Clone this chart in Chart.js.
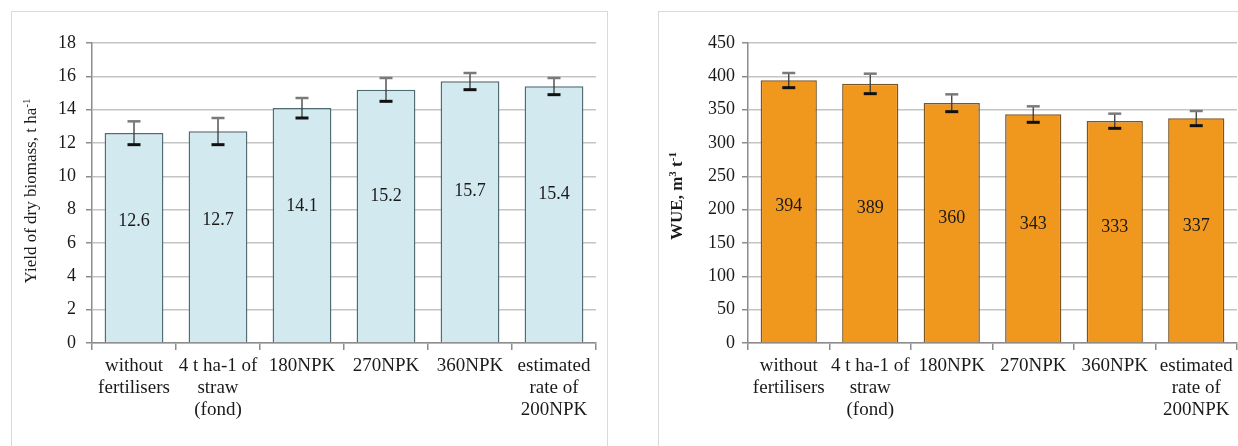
<!DOCTYPE html>
<html>
<head>
<meta charset="utf-8">
<script src="https://cdn.jsdelivr.net/npm/chart.js@4"></script>
<style>
    html, body { margin: 0; padding: 0; background: #fff; overflow: hidden; width: 1238px; height: 446px; }
    .box { position: absolute; top: 11px; border: 1px solid #d9d9d9; height: 470px; }
    #boxLeft { left: 11px; width: 595px; }
    #boxRight { left: 658px; width: 620px; }
    canvas { display: block; }
</style>
</head>
<body>
<div class="box" id="boxLeft"><canvas id="biomassChart" width="595" height="434"></canvas></div>
<div class="box" id="boxRight"><canvas id="wueChart" width="579" height="434"></canvas></div>
<script>
// data
var categories = [
    ['without', 'fertilisers'],
    ['4 t ha-1 of', 'straw', '(fond)'],
    '180NPK',
    '270NPK',
    '360NPK',
    ['estimated', 'rate of', '200NPK']
];
var biomassValues = [12.6, 12.7, 14.1, 15.2, 15.7, 15.4];
var biomassErrors = [0.7, 0.8, 0.6, 0.7, 0.5, 0.5];
var wueValues = [394, 389, 360, 343, 333, 337];
var wueErrors = [11, 15, 13, 12, 11, 11];
var biomassTitle = [{ text: 'Yield of dry biomass, t ha' }, { text: '-1', sup: true }];
var wueTitle = [{ text: 'WUE, m' }, { text: '3', sup: true }, { text: ' t' }, { text: '-1', sup: true }];

var FONT = '"Liberation Serif", "Times New Roman", serif';
var AXIS = '#8c8c8c';

// error bars, values inside the bars and the rotated axis title
var barExtras = {
    id: 'barExtras',
    afterDatasetsDraw: function (chart, args, opts) {
        var ctx = chart.ctx;
        var y = chart.scales.y;
        var values = chart.data.datasets[0].data;
        ctx.save();
        chart.getDatasetMeta(0).data.forEach(function (bar, i) {
            var v = values[i], e = opts.errors[i];
            var top = y.getPixelForValue(v + e);
            var bot = y.getPixelForValue(v - e);
            ctx.strokeStyle = '#3a3a3a';
            ctx.lineWidth = 1.3;
            ctx.beginPath(); ctx.moveTo(bar.x, top); ctx.lineTo(bar.x, bot); ctx.stroke();
            ctx.lineWidth = 2.5;
            ctx.strokeStyle = '#7a7a7a';
            ctx.beginPath(); ctx.moveTo(bar.x - 6.5, top); ctx.lineTo(bar.x + 6.5, top); ctx.stroke();
            ctx.lineWidth = 3;
            ctx.strokeStyle = '#111';
            ctx.beginPath(); ctx.moveTo(bar.x - 6.5, bot); ctx.lineTo(bar.x + 6.5, bot); ctx.stroke();

            ctx.fillStyle = '#1a1a1a';
            ctx.font = '18px ' + FONT;
            ctx.textAlign = 'center';
            ctx.textBaseline = 'middle';
            ctx.fillText(String(v), bar.x, y.getPixelForValue(v * opts.labelAt));
        });

        // axis title with superscripts
        var parts = opts.title;
        var weight = opts.titleBold ? 'bold ' : '';
        var total = 0;
        parts.forEach(function (p) {
            ctx.font = weight + (p.sup ? '11px ' : '17px ') + FONT;
            p.w = ctx.measureText(p.text).width;
            total += p.w;
        });
        ctx.translate(opts.titleX, opts.titleY);
        ctx.rotate(-Math.PI / 2);
        ctx.textAlign = 'left';
        ctx.textBaseline = 'middle';
        ctx.fillStyle = '#1a1a1a';
        var x = -total / 2;
        parts.forEach(function (p) {
            ctx.font = weight + (p.sup ? '11px ' : '17px ') + FONT;
            ctx.fillText(p.text, x, p.sup ? -5 : 0);
            x += p.w;
        });
        ctx.restore();
    }
};

function makeChart(id, values, cfg) {
    var ctx = document.getElementById(id).getContext('2d');
    return new Chart(ctx, {
        type: 'bar',
        data: {
            labels: categories,
            datasets: [{
                data: values,
                backgroundColor: cfg.fill,
                borderColor: cfg.stroke,
                borderWidth: 1.5,
                barPercentage: cfg.barPct,
                categoryPercentage: 1
            }]
        },
        plugins: [barExtras],
        options: {
            responsive: false,
            animation: false,
            devicePixelRatio: 1,
            layout: { padding: { left: 0, top: 31, right: cfg.padRight, bottom: 0 } },
            plugins: {
                legend: { display: false },
                tooltip: { enabled: false },
                barExtras: {
                    errors: cfg.errors,
                    labelAt: cfg.labelAt,
                    title: cfg.title,
                    titleBold: cfg.titleBold,
                    titleX: cfg.titleX,
                    titleY: cfg.titleY
                }
            },
            scales: {
                x: {
                    afterFit: function (s) { s.height = 103; },
                    grid: { offset: true, drawOnChartArea: false, tickLength: 7, color: AXIS, lineWidth: 1.5 },
                    border: { color: AXIS, width: 1.5 },
                    ticks: {
                        color: '#1a1a1a', padding: 5, maxRotation: 0, autoSkip: false,
                        font: { family: FONT, size: 19, lineHeight: 1.15 }
                    }
                },
                y: {
                    min: 0,
                    max: cfg.max,
                    afterFit: function (s) { s.width = cfg.axisWidth; },
                    grid: { color: '#c4c4c4', tickColor: AXIS, tickLength: 6, lineWidth: 1.5 },
                    border: { color: AXIS, width: 1.5 },
                    ticks: {
                        stepSize: cfg.step, padding: cfg.tickPad, color: '#1a1a1a',
                        font: { family: FONT, size: 18 }
                    }
                }
            }
        }
    });
}

document.addEventListener('DOMContentLoaded', function () {
    // Yield of dry biomass
    makeChart('biomassChart', biomassValues, {
        fill: '#d3e9f0', stroke: '#4f6c73', barPct: 0.7,
        errors: biomassErrors, labelAt: 0.58,
        max: 18, step: 2, axisWidth: 80, tickPad: 10, padRight: 11,
        title: biomassTitle, titleX: 20, titleY: 179
    });
    // Water use efficiency
    makeChart('wueChart', wueValues, {
        fill: '#f0971e', stroke: '#7a5627', barPct: 0.69,
        errors: wueErrors, labelAt: 0.52,
        max: 450, step: 50, axisWidth: 89, tickPad: 7, padRight: 1,
        title: wueTitle, titleBold: true, titleX: 19, titleY: 184
    });
});
</script>
</body>
</html>
